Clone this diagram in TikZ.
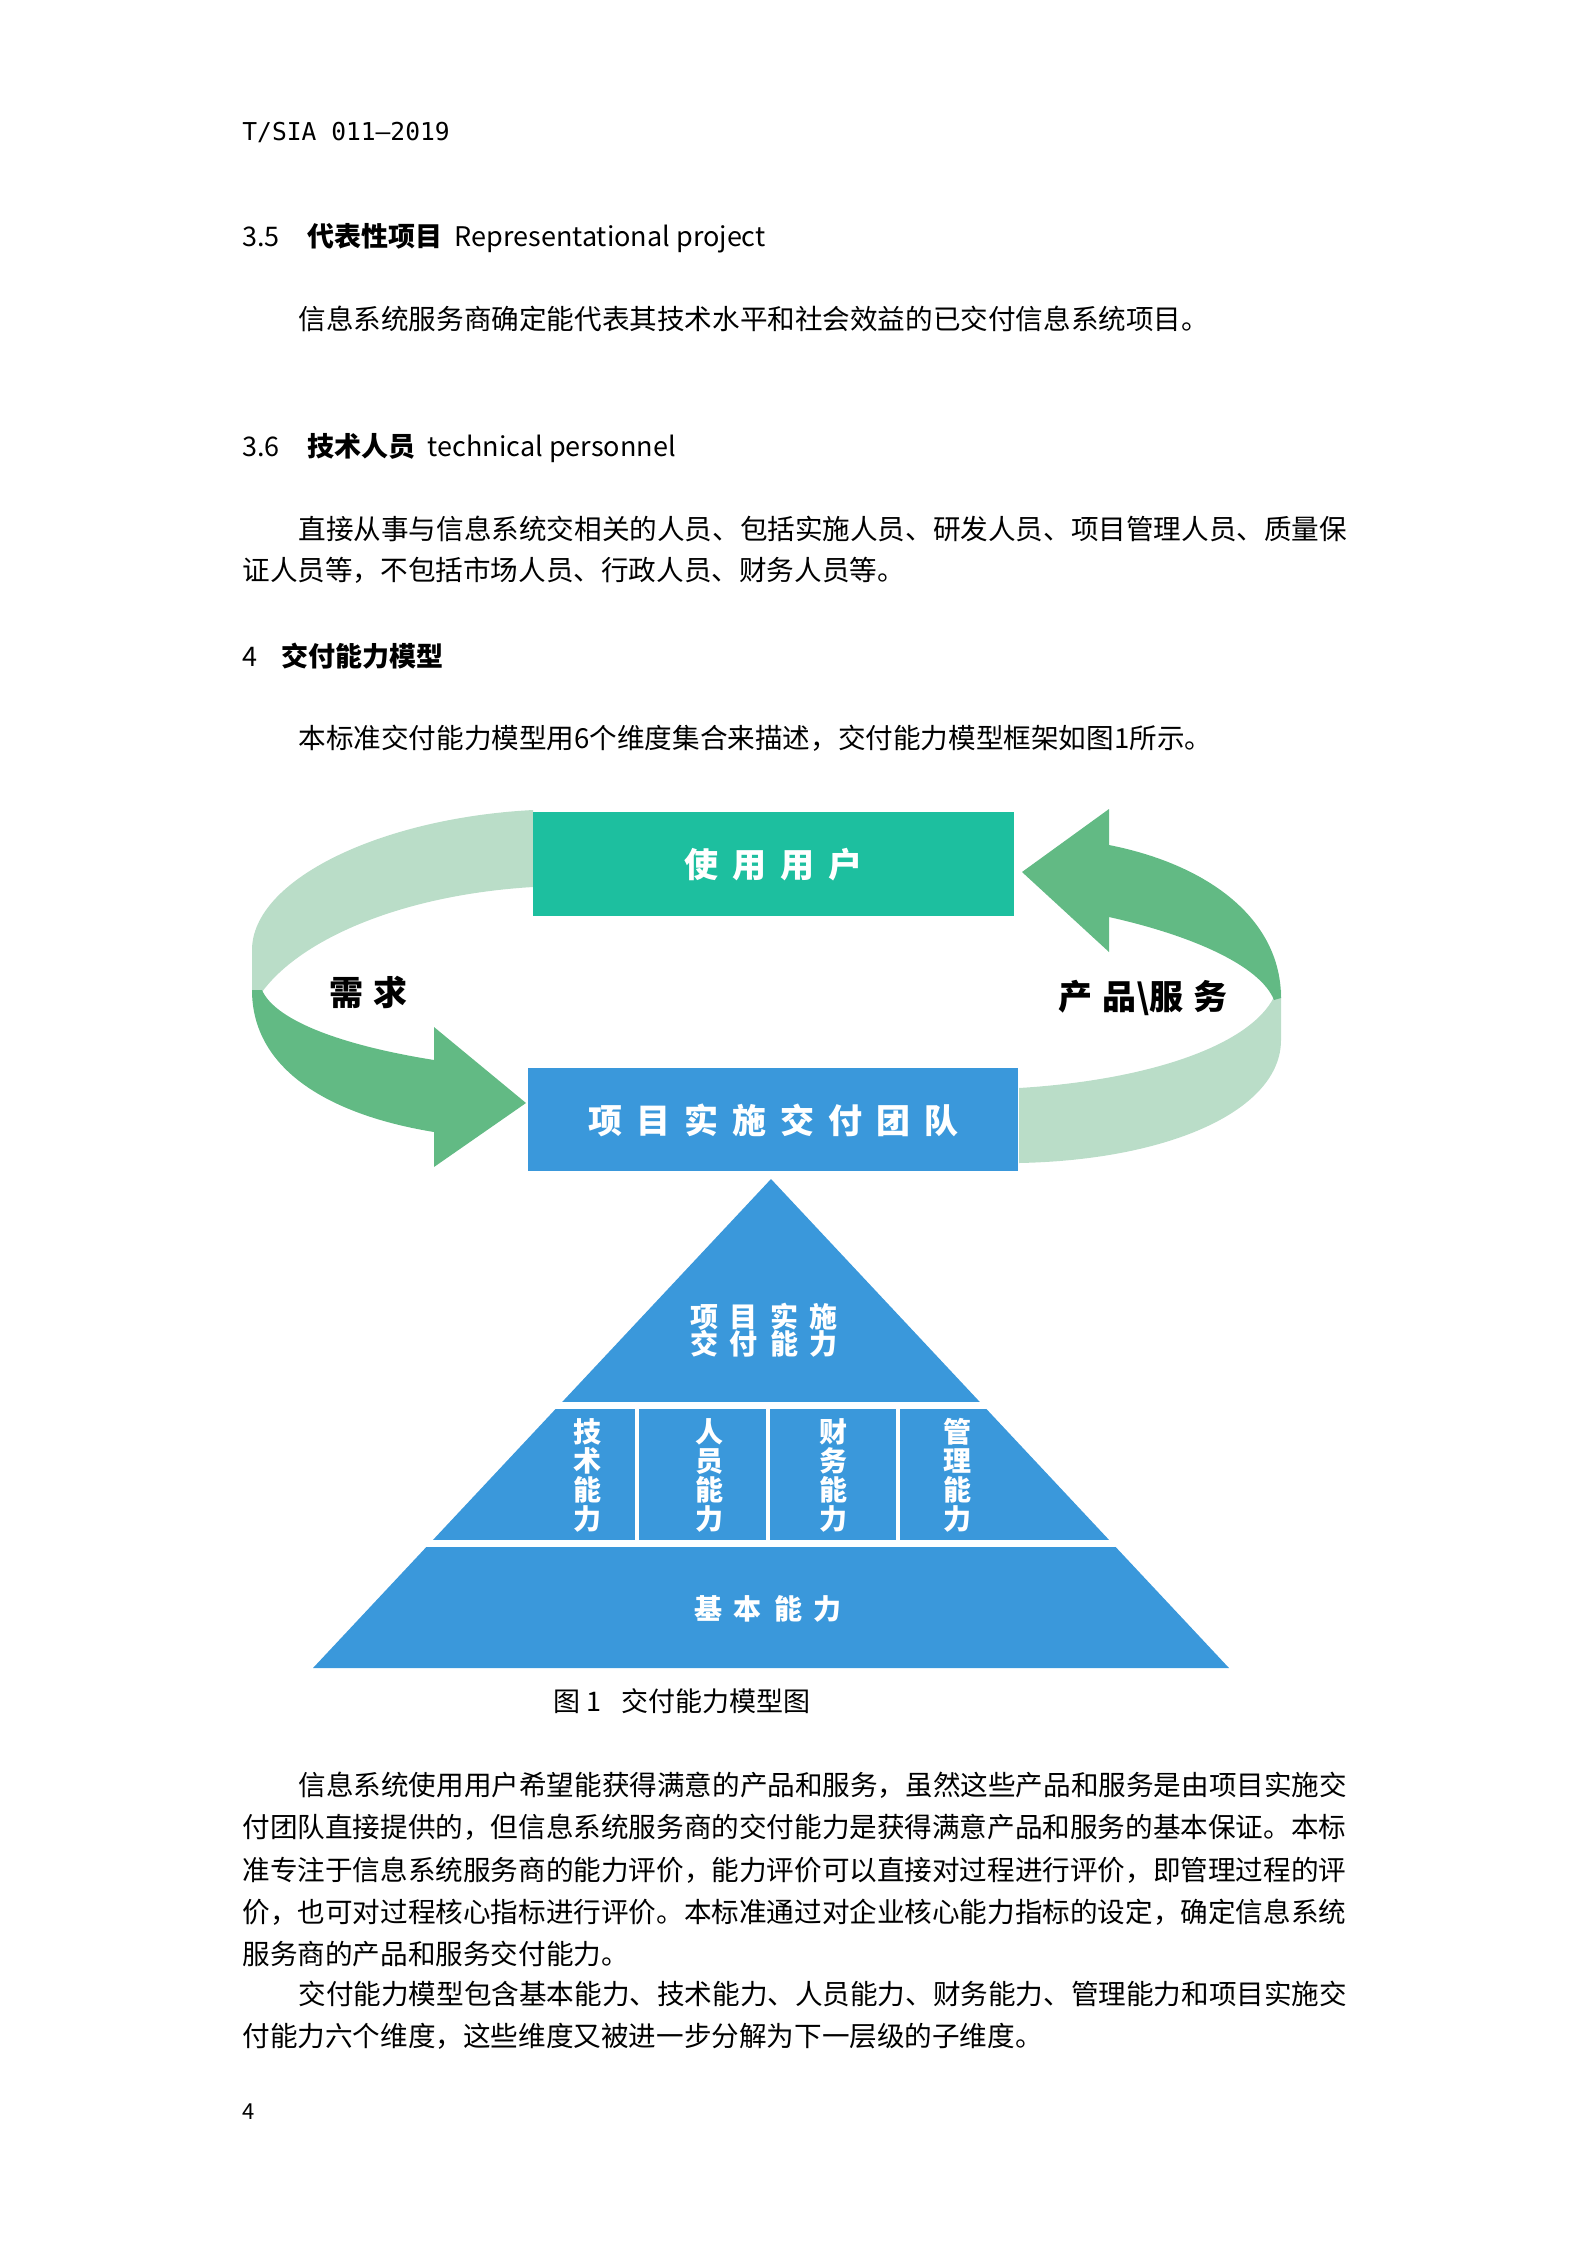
\documentclass[tikz,border=0pt]{standalone}
\usepackage{fontspec}
\setmainfont{Noto Sans CJK SC}
\newfontfamily\monof{DejaVu Sans Mono}
\definecolor{teal1}{HTML}{1DBF9F}
\definecolor{blue1}{HTML}{3A98DB}
\definecolor{lgreen}{HTML}{BADDC8}
\definecolor{dgreen}{HTML}{62BA84}
\newcommand\gA{\hspace{7pt}}
\newcommand\gB{\hspace{6pt}}
\newcommand\gC{\hspace{5pt}}
\begin{document}
\begin{tikzpicture}[x=0.5pt,y=-0.5pt,
 body/.style={anchor=west,inner sep=0,font=\fontsize{13.8}{16}\selectfont},
 head/.style={anchor=west,inner sep=0,font=\fontsize{13.5}{16}\selectfont},
 boxlbl/.style={text=white,font=\fontsize{17}{18}\selectfont\bfseries},
 pyr/.style={text=white,align=center,font=\fontsize{14}{14.5}\selectfont\bfseries},
 side/.style={font=\fontsize{17}{18}\selectfont\bfseries}]
\useasboundingbox (0,0) rectangle (1586,2244);
\node[anchor=west,inner sep=0,font=\monof\fontsize{12.3}{14}\selectfont] (hdr) at (242,133) {T/SIA 011—2019};
\node[head] (h35) at (242,238) {3.5\hspace{14pt}\textbf{代表性项目}\hspace{6pt}Representational project};
\node[body] (p1) at (298,319) {信息系统服务商确定能代表其技术水平和社会效益的已交付信息系统项目。};
\node[head] (h36) at (242,448) {3.6\hspace{14pt}\textbf{技术人员}\hspace{6pt}technical personnel};
\node[body] (p2) at (298,529) {直接从事与信息系统交相关的人员、包括实施人员、研发人员、项目管理人员、质量保};
\node[body] (p3) at (242,570) {证人员等，不包括市场人员、行政人员、财务人员等。};
\node[head] (h4) at (242,656) {4\hspace{12pt}\textbf{交付能力模型}};
\node[body] (p4) at (298,738) {本标准交付能力模型用6个维度集合来描述，交付能力模型框架如图1所示。};
% ribbons
\fill[lgreen] (533,810) .. controls (380,818) and (252,880) .. (252,950) -- (252,992)
  -- (262,992) .. controls (300,940) and (400,895) .. (533,887) -- cycle;
\fill[dgreen] (252,990) .. controls (252,1070) and (330,1115) .. (434,1132) -- (434,1167) -- (526,1103)
  -- (434,1027) -- (434,1060) .. controls (340,1045) and (275,1020) .. (262,990) -- cycle;
\fill[lgreen] (1281,990) -- (1281,1040) .. controls (1281,1110) and (1170,1160) .. (1019,1163)
  -- (1019,1088) .. controls (1150,1080) and (1250,1045) .. (1274,997) -- cycle;
\fill[dgreen] (1281,998) .. controls (1281,920) and (1210,865) .. (1109,845) -- (1109,809) -- (1022,872)
  -- (1109,952) -- (1109,917) .. controls (1190,935) and (1260,965) .. (1274,1000) -- cycle;
\node[fill=teal1,minimum width=240.5pt,minimum height=52pt,inner sep=0,anchor=north west,boxlbl] (user) at (533,812) {使\gA 用\gA 用\gA 户};
\node[fill=blue1,minimum width=245pt,minimum height=51.5pt,inner sep=0,anchor=north west,boxlbl] (team) at (528,1068) {项\gA 目\gA 实\gA 施\gA 交\gA 付\gA 团\gA 队};
\node[side] (need) at (368,992) {需\gC 求};
\node[side] (prod) at (1143,998) {产\gC 品\textbackslash 服\gC 务};
% pyramid
\fill[blue1] (771,1179) -- (1229,1668) -- (313,1668) -- cycle;
\draw[white,line width=3.5pt] (400,1405) -- (1140,1405) (300,1543) -- (1240,1543);
\draw[white,line width=2pt] (637,1405) -- (637,1543) (768,1405) -- (768,1543) (898,1405) -- (898,1543);
\node[pyr] (top) at (764,1330) {项\gB 目\gB 实\gB 施\\[-1pt]交\gB 付\gB 能\gB 力};
\node[pyr] (c1) at (587,1475) {技\\术\\能\\力};
\node[pyr] (c2) at (709,1475) {人\\员\\能\\力};
\node[pyr] (c3) at (833,1475) {财\\务\\能\\力};
\node[pyr] (c4) at (957,1475) {管\\理\\能\\力};
\node[pyr] (base) at (768,1609) {基\gB 本\gB 能\gB 力};
\node[font=\fontsize{13.5}{16}\selectfont] (cap) at (682,1701) {图 1\hspace{10pt}交付能力模型图};
\node[body] (q1) at (298,1785) {信息系统使用用户希望能获得满意的产品和服务，虽然这些产品和服务是由项目实施交};
\node[body] (q2) at (242,1827) {付团队直接提供的，但信息系统服务商的交付能力是获得满意产品和服务的基本保证。本标};
\node[body] (q3) at (242,1870) {准专注于信息系统服务商的能力评价，能力评价可以直接对过程进行评价，即管理过程的评};
\node[body] (q4) at (242,1912) {价，也可对过程核心指标进行评价。本标准通过对企业核心能力指标的设定，确定信息系统};
\node[body] (q5) at (242,1954) {服务商的产品和服务交付能力。};
\node[body] (q6) at (298,1994) {交付能力模型包含基本能力、技术能力、人员能力、财务能力、管理能力和项目实施交};
\node[body] (q7) at (242,2036) {付能力六个维度，这些维度又被进一步分解为下一层级的子维度。};
\node[anchor=west,inner sep=0,font=\fontsize{11}{13}\selectfont] (pg) at (242,2112) {4};
\end{tikzpicture}
\end{document}
